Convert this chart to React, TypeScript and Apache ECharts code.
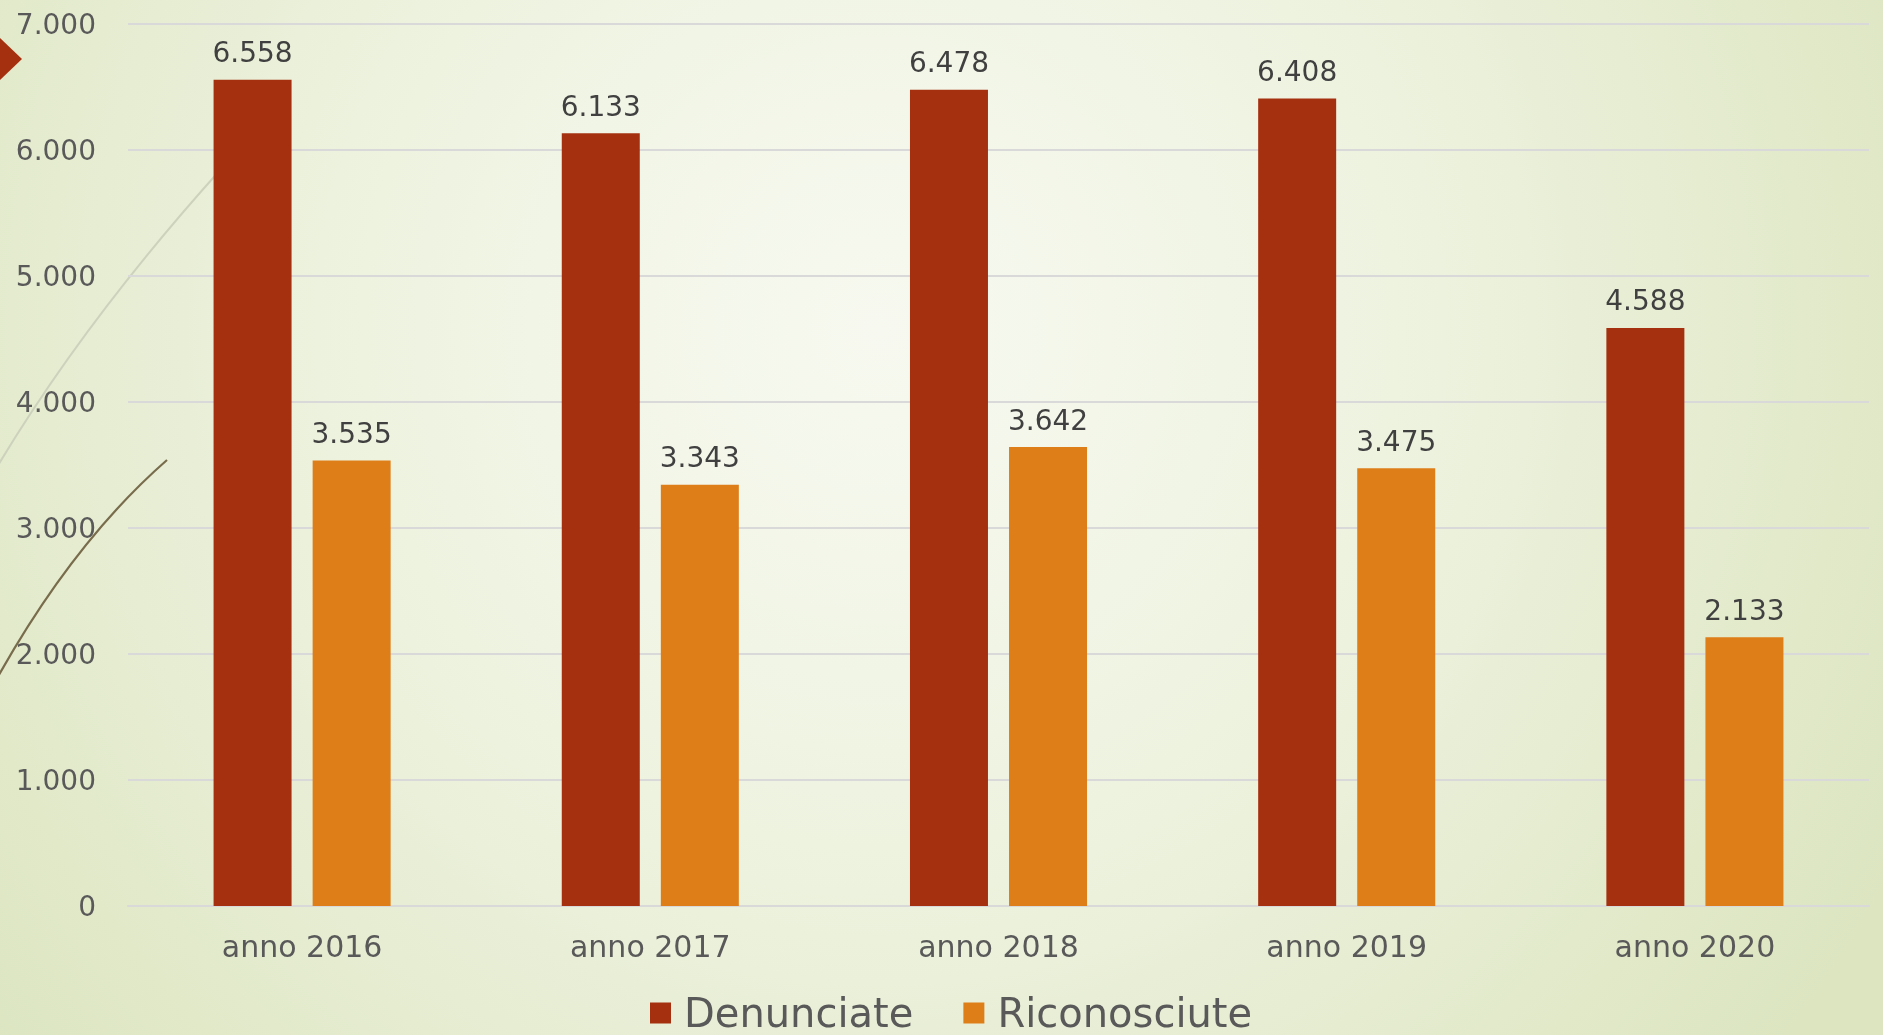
import React, { useEffect, useRef } from "react";
import * as echarts from "echarts";

const categories = ["anno 2016", "anno 2017", "anno 2018", "anno 2019", "anno 2020"];
const denunciate = [6558, 6133, 6478, 6408, 4588];
const riconosciute = [3535, 3343, 3642, 3475, 2133];
const seriesNames = ["Denunciate", "Riconosciute"];

const fmt = (v: number) => String(v).replace(/\B(?=(\d{3})+(?!\d))/g, ".");

export default function App() {
  const ref = useRef<HTMLDivElement>(null);
  useEffect(() => {
    if (!ref.current) return;
    const chart = echarts.init(ref.current, null, { renderer: "svg" });
    const font = "DejaVu Sans";
    chart.setOption({
      animation: false,
      backgroundColor: "transparent",
      graphic: [
        {
          type: "rect",
          z: -100,
          silent: true,
          shape: { x: 0, y: 0, width: 1883, height: 1035 },
          style: {
            fill: new echarts.graphic.RadialGradient(880, 330, 1150, [
              { offset: 0, color: "#f7f9f0" },
              { offset: 0.45, color: "#eef3e0" },
              { offset: 1, color: "#dce5c0" },
            ], true),
          },
        },
        {
          type: "bezierCurve",
          z: -50,
          silent: true,
          shape: { x1: -3, y1: 467, cpx1: 85, cpy1: 320, x2: 222, y2: 168 },
          style: { stroke: "#cdd2bd", lineWidth: 2, fill: "none" },
        },
        {
          type: "bezierCurve",
          z: -50,
          silent: true,
          shape: { x1: -5, y1: 682, cpx1: 72, cpy1: 543, x2: 167, y2: 460 },
          style: { stroke: "#786c4c", lineWidth: 2.2, fill: "none" },
        },
        {
          type: "polygon",
          z: -40,
          silent: true,
          shape: { points: [[-3, 35], [22, 59], [-3, 83]] },
          style: { fill: "#a53010" },
        },
      ],
      grid: { left: 128, right: 14, top: 24, bottom: 129, containLabel: false },
      legend: {
        data: seriesNames,
        left: 645,
        top: 986,
        icon: "rect",
        itemWidth: 21,
        itemHeight: 21,
        itemGap: 50,
        textStyle: { fontFamily: font, fontSize: 40, color: "#595959", padding: [0, 0, 0, 8], lineHeight: 44 },
      },
      xAxis: {
        type: "category",
        data: categories,
        axisTick: { show: false },
        axisLine: { lineStyle: { color: "#d9d9d9", width: 2 } },
        axisLabel: { fontFamily: font, fontSize: 30, color: "#595959", margin: 25 },
      },
      yAxis: {
        type: "value",
        min: 0,
        max: 7000,
        interval: 1000,
        axisLine: { show: false },
        axisTick: { show: false },
        splitLine: { lineStyle: { color: "#d9d9d9", width: 2 } },
        axisLabel: { fontFamily: font, fontSize: 28, color: "#595959", margin: 32, formatter: (v: number) => fmt(v) },
      },
      series: [
        {
          name: seriesNames[0],
          type: "bar",
          data: denunciate,
          barWidth: 78,
          barGap: "27%",
          itemStyle: { color: "#a53010" },
          label: { show: true, position: "top", distance: 13, fontFamily: font, fontSize: 28, color: "#404040", formatter: (p: any) => fmt(p.value) },
        },
        {
          name: seriesNames[1],
          type: "bar",
          data: riconosciute,
          barWidth: 78,
          barGap: "27%",
          itemStyle: { color: "#de7e18" },
          label: { show: true, position: "top", distance: 13, fontFamily: font, fontSize: 28, color: "#404040", formatter: (p: any) => fmt(p.value) },
        },
      ],
    });
    return () => chart.dispose();
  }, []);
  return <div ref={ref} style={{ position: "fixed", left: 0, top: 0, width: 1883, height: 1035 }} />;
}
